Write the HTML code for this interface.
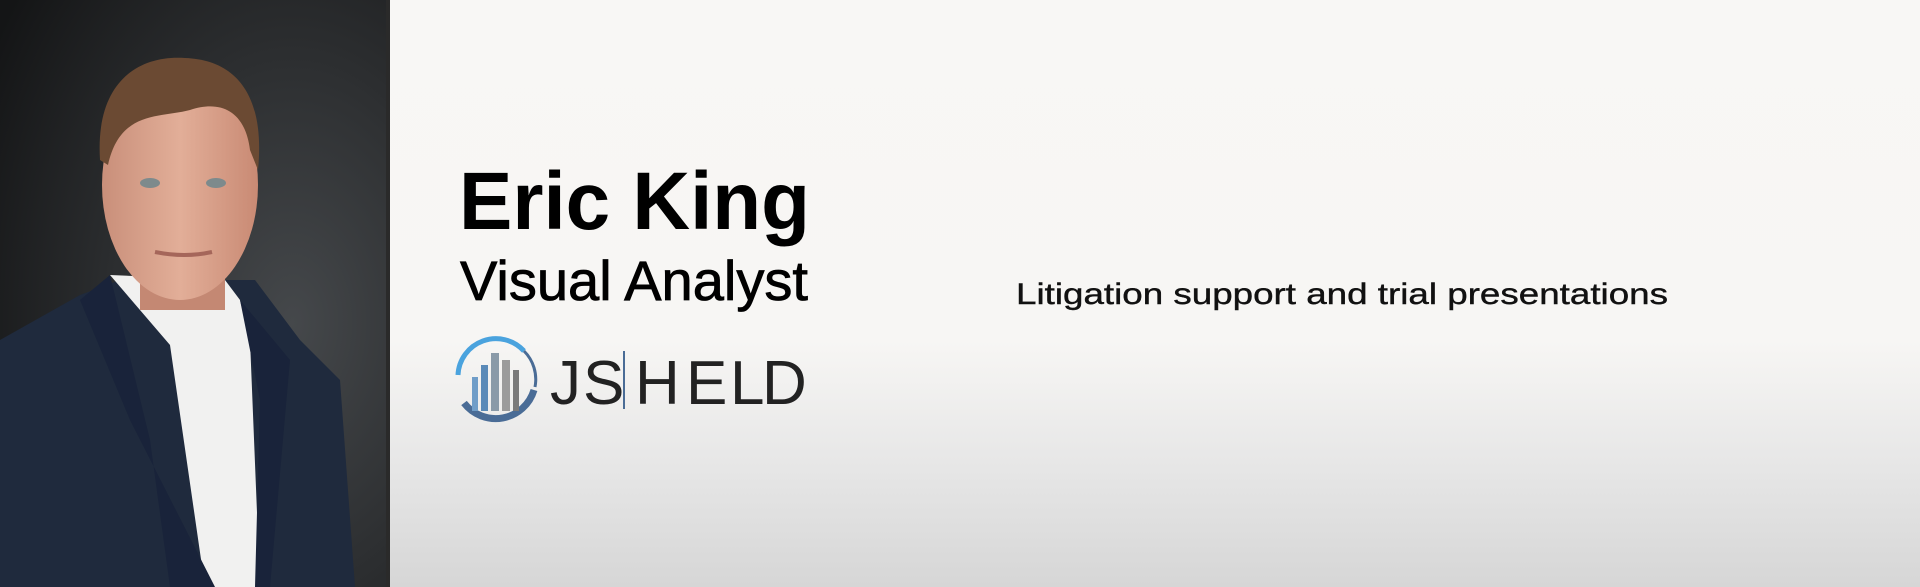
<!DOCTYPE html>
<html><head><meta charset="utf-8"><style>
html,body{margin:0;padding:0}
body{width:1920px;height:587px;position:relative;overflow:hidden;background:linear-gradient(180deg,#f8f7f5 0%,#f7f6f4 58%,#e6e6e6 80%,#d6d6d6 100%);font-family:"Liberation Sans",sans-serif}
#photo{position:absolute;left:0;top:0;width:390px;height:587px}
.t{position:absolute;margin:0;white-space:nowrap;color:#000}
</style></head><body>
<svg id="photo" width="390" height="587" viewBox="0 0 390 587">
<defs>
<radialGradient id="bg" cx="0.75" cy="0.55" r="0.9"><stop offset="0" stop-color="#45484b"/><stop offset="1" stop-color="#141516"/></radialGradient>
<linearGradient id="skin" x1="0" x2="1"><stop offset="0" stop-color="#c98f7a"/><stop offset="0.5" stop-color="#e2ae98"/><stop offset="1" stop-color="#c98a74"/></linearGradient>
</defs>
<rect width="390" height="587" fill="url(#bg)"/>
<rect x="386" width="4" height="587" fill="#2a2a2a"/>
<path d="M0 340 L80 295 L120 280 L255 280 L300 340 L340 380 L355 587 L0 587Z" fill="#1f2a3d"/>
<path d="M110 275 L170 345 L205 587 L260 587 L250 340 L240 300 L225 280Z" fill="#f1f1f0"/>
<path d="M110 275 L80 300 L130 420 L215 587 L170 587 L150 440Z" fill="#19233a"/>
<path d="M240 300 L290 360 L270 587 L255 587 L260 400Z" fill="#19233a"/>
<rect x="140" y="230" width="85" height="80" fill="#c48873"/>
<ellipse cx="180" cy="185" rx="78" ry="115" fill="url(#skin)"/>
<path d="M100 160 C95 80 140 55 185 58 C240 60 265 100 258 170 L250 150 C245 110 220 100 190 110 C160 118 120 110 108 165Z" fill="#6b4a33"/>
<ellipse cx="150" cy="183" rx="10" ry="5" fill="#7d8a8c"/>
<ellipse cx="216" cy="183" rx="10" ry="5" fill="#7d8a8c"/>
<path d="M155 252 Q185 258 212 252" stroke="#a5665a" stroke-width="4" fill="none"/>
</svg>
<svg class="t" style="left:455px;top:150px" width="400" height="100"><text x="4" y="79" font-family="Liberation Sans, sans-serif" font-size="82" font-weight="bold" fill="#000" textLength="351" lengthAdjust="spacingAndGlyphs">Eric King</text></svg>
<svg class="t" style="left:455px;top:245px" width="400" height="80"><text x="5" y="55" font-family="Liberation Sans, sans-serif" font-size="56" fill="#000" stroke="#000" stroke-width="0.8" textLength="348" lengthAdjust="spacingAndGlyphs">Visual Analyst</text></svg>
<svg style="position:absolute;left:450px;top:335px" width="370" height="90" viewBox="0 0 370 90">
<path d="M14 68 A40 40 0 0 0 84 55" stroke="#4a6c96" stroke-width="7" fill="none"/>
<path d="M8 40 A38 38 0 0 1 74 16" stroke="#4aa3de" stroke-width="5" fill="none"/>
<path d="M85 52 A40 40 0 0 0 74 16" stroke="#4a6c96" stroke-width="3" fill="none"/>
<rect x="22" y="42" width="6" height="34" fill="#6f9dc8"/>
<rect x="31" y="30" width="7" height="46" fill="#5a8ab8"/>
<rect x="41" y="18" width="8" height="58" fill="#8a9aa8"/>
<rect x="52" y="25" width="8" height="51" fill="#9b9b9b"/>
<rect x="63" y="35" width="6" height="41" fill="#7a7a7a"/>
<g font-family="Liberation Sans, sans-serif" font-size="62" fill="#222">
<text x="100" y="69">J</text><text x="133" y="69">S</text>
<text x="185" y="69">H</text><text x="236" y="69">E</text><text x="280" y="69">L</text><text x="312" y="69">D</text>
</g>
<rect x="173" y="16" width="2" height="58" fill="#4a6c96"/>
</svg>
<svg class="t" style="left:1016px;top:272px" width="660" height="40"><text x="0" y="32" font-family="Liberation Sans, sans-serif" font-size="30" fill="#111" stroke="#111" stroke-width="0.4" textLength="652" lengthAdjust="spacingAndGlyphs">Litigation support and trial presentations</text></svg>
</body></html>
